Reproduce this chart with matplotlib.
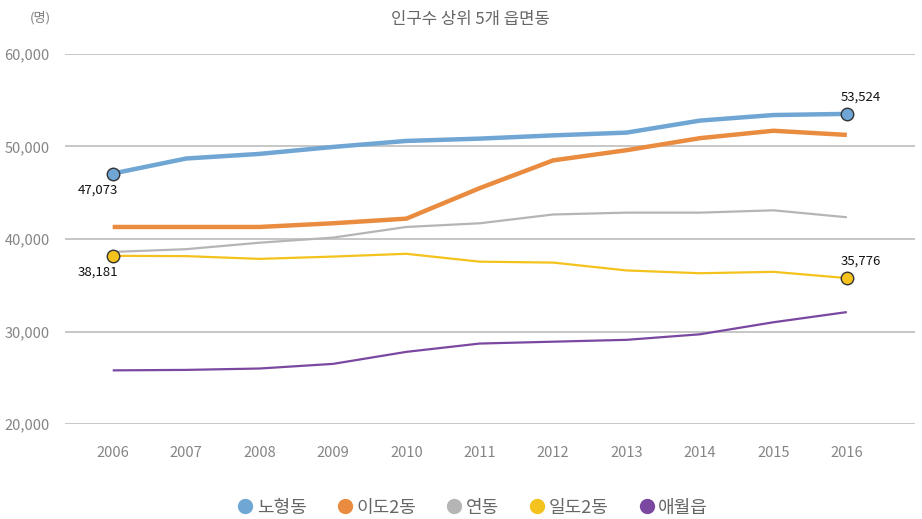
import matplotlib
matplotlib.use('Agg')
import matplotlib.pyplot as plt
from matplotlib.lines import Line2D
from matplotlib.ticker import FuncFormatter

plt.rcParams['font.family'] = ['Noto Sans CJK KR', 'DejaVu Sans']

years = ['2006', '2007', '2008', '2009', '2010', '2011', '2012', '2013', '2014', '2015', '2016']
nohyeong = [47073, 48700, 49200, 49950, 50600, 50850, 51200, 51500, 52800, 53400, 53524]
ido2 = [41300, 41300, 41300, 41700, 42200, 45500, 48500, 49600, 50900, 51700, 51250]
yeon = [38600, 38900, 39600, 40150, 41300, 41700, 42650, 42850, 42850, 43100, 42350]
ildo2 = [38181, 38150, 37850, 38100, 38400, 37550, 37450, 36600, 36300, 36450, 35776]
aewol = [25800, 25850, 26000, 26500, 27800, 28700, 28900, 29100, 29700, 31000, 32100]

names = ['노형동', '이도2동', '연동', '일도2동', '애월읍']
colors = ['#6fa6d4', '#ea8c40', '#b5b5b5', '#f4c21c', '#7a48a0']
widths = [3.2, 3.2, 1.6, 1.6, 1.6]
series = [nohyeong, ido2, yeon, ildo2, aewol]

fig = plt.figure(figsize=(9.22, 5.19), dpi=100)
ax = fig.add_axes([0.0705, 0.183, 0.922, 0.713])

x = list(range(len(years)))
for vals, c, w in zip(series, colors, widths):
    ax.plot(x, vals, color=c, lw=w, solid_capstyle='butt', zorder=3)

# highlighted end points
for vals, c in [(nohyeong, colors[0]), (ildo2, colors[3])]:
    ax.plot([x[0], x[-1]], [vals[0], vals[-1]], 'o', ms=9, mfc=c, mec='#333333', mew=1, zorder=4)
    ax.annotate(f'{vals[0]:,}', (x[0], vals[0]), xytext=(-11, -12), textcoords='offset points',
                ha='center', va='center', fontsize=9.5, color='#111111')
    ax.annotate(f'{vals[-1]:,}', (x[-1], vals[-1]), xytext=(10, 12), textcoords='offset points',
                ha='center', va='center', fontsize=9.5, color='#111111')

ax.set_xlim(-0.65, 10.93)
ax.set_ylim(20000, 60000)
ax.set_yticks([20000, 30000, 40000, 50000, 60000])
ax.yaxis.set_major_formatter(FuncFormatter(lambda v, p: f'{int(v):,}'))
ax.set_xticks(x)
ax.set_xticklabels(years)
ax.grid(axis='y', color='#bdbdbd', lw=1.2)
ax.set_axisbelow(True)
for s in ax.spines.values():
    s.set_visible(False)
ax.tick_params(axis='both', length=0, colors='#858585', labelsize=10.5)
ax.tick_params(axis='x', pad=16)
ax.tick_params(axis='y', pad=11)

fig.text(0.044, 0.965, '(명)', fontsize=9.5, color='#7f7f7f', ha='center', va='center')
fig.text(0.51, 0.963, '인구수 상위 5개 읍면동', fontsize=12, color='#666666', ha='center', va='center')

handles = [Line2D([], [], ls='none', marker='o', ms=10, mfc=c, mec=c) for c in colors]
leg = fig.legend(handles, names, loc='center', bbox_to_anchor=(0.512, 0.022), ncol=5, frameon=False,
                 fontsize=13, handletextpad=0.15, columnspacing=1.6, handlelength=1.0)
for t in leg.get_texts():
    t.set_color('#666666')

fig.savefig('out.png', dpi=100)
